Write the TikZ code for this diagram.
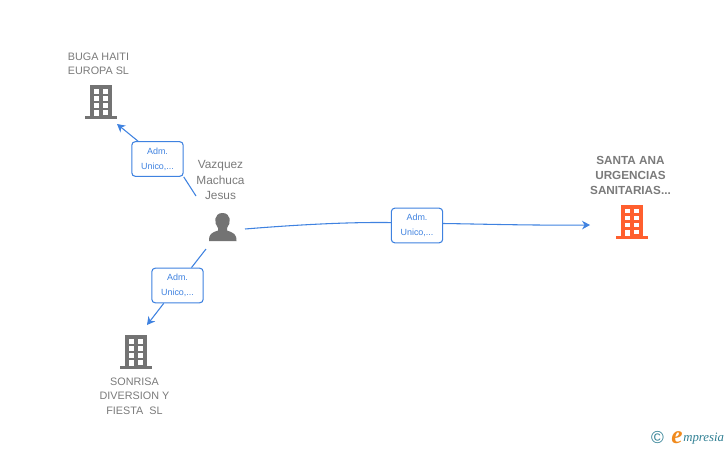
\documentclass[tikz,border=0pt]{standalone}
\usepackage{fontspec}
\setmainfont{Liberation Sans}
\newfontfamily\logofont{Liberation Serif}
\usetikzlibrary{arrows.meta}
\definecolor{linkblue}{HTML}{3F82E0}
\definecolor{txtgrey}{HTML}{7A7A7A}
\definecolor{icongrey}{HTML}{737373}
\definecolor{orangeicon}{HTML}{FF5F2E}
\definecolor{copyblue}{HTML}{2F7F93}
\definecolor{eorange}{HTML}{F08A1D}
\tikzset{
  x=0.75pt,y=-0.75pt,
  lbl/.style={font=\fontsize{8.1}{10.9}\selectfont,text=txtgrey,align=center,inner sep=0pt},
  personlbl/.style={lbl,font=\fontsize{8.9}{11.3}\selectfont},
  boldlbl/.style={lbl,font=\fontsize{8.8}{11.2}\selectfont\bfseries},
  linkbox/.style={draw=linkblue,line width=0.8pt,rounded corners=2.6pt,fill=white,minimum width=38.5pt,minimum height=26pt,inner sep=0pt,align=center,text=linkblue,font=\fontsize{6.7}{11.2}\selectfont},
  link/.style={draw=linkblue,line width=0.8pt},
  arrowlink/.style={link,-{Stealth[length=6pt,width=6.5pt]}},
  iconbox/.style={minimum width=24pt,minimum height=26pt,inner sep=0pt},
  pics/building/.style={code={
    \fill[#1] (-11,-17) rectangle (11,14);
    \fill[#1] (-16,14) rectangle (16,17);
    \foreach \yy in {-13,-6,1}{
      \fill[white] (-7,\yy) rectangle (-2,\yy+4.5);
      \fill[white] (2,\yy) rectangle (7,\yy+4.5);
    }
    \fill[white] (-7,8) rectangle (-2,14);
    \fill[white] (2,8) rectangle (7,12.5);
  }},
}
\begin{document}
\begin{tikzpicture}
\useasboundingbox (0,0) rectangle (728,450);
% icons
\node[iconbox] (buga) at (100.5,102) {};
\pic at (100.5,102) {building=icongrey};
\node[iconbox] (sonrisa) at (136,352) {};
\pic at (136,352) {building=icongrey};
\node[iconbox] (santa) at (632,221.5) {};
\pic at (632,221.5) {building=orangeicon};
\node[iconbox] (person) at (222.5,227) {};
\fill[icongrey] (209,241) .. controls (209,234) and (211,233) .. (218,230.5) -- (218,228) .. controls (213.5,223) and (214,213) .. (222.5,213) .. controls (231,213) and (231.5,223) .. (227,228) -- (227,230.5) .. controls (234,233) and (236.5,234) .. (236.5,241) -- cycle;
% labels
\node[lbl] (bugatext) at (98.5,64) {BUGA HAITI\\EUROPA SL};
\node[personlbl] (persontext) at (220.5,180) {Vazquez\\Machuca\\Jesus};
\node[lbl] (sonrisatext) at (134.5,396) {SONRISA\\DIVERSION Y\\FIESTA\ \ SL};
\node[boldlbl] (santatext) at (630.5,175.5) {SANTA ANA\\URGENCIAS\\SANITARIAS...};
% connector ends
\coordinate (p1) at (196,196);
\coordinate (p2) at (206,249);
\coordinate (p3) at (245,229);
\coordinate (e1) at (117,124);
\coordinate (e2) at (147,325);
\coordinate (e3) at (590,225);
% connector boxes
\node[linkbox] (l1) at (157.5,159) {Adm.\\Unico,...};
\node[linkbox] (l2) at (177.5,285.5) {Adm.\\Unico,...};
\node[linkbox] (l3) at (417,225.5) {Adm.\\Unico,...};
% connectors
\draw[link] (p1) -- (l1.south east);
\draw[arrowlink] ([xshift=5pt]l1.north west) -- (e1);
\draw[link] (p2) -- (l2);
\draw[arrowlink] (l2) -- (e2);
\draw[link] (p3) .. controls (300,224.5) and (350,222) .. ([yshift=2.2pt]l3.west);
\draw[arrowlink] ([yshift=1.5pt]l3.east) .. controls (480,224) and (530,225.5) .. (e3);
% logo
\node[text=copyblue,font=\fontsize{13}{13}\selectfont,inner sep=0pt] (copy) at (657.5,437.5) {©};
\node[text=eorange,font=\logofont\fontsize{19}{19}\selectfont\itshape\bfseries,inner sep=0pt] (elogo) at (677,438) {e};
\node[text=copyblue,font=\logofont\fontsize{9.6}{10}\selectfont\itshape,inner sep=0pt,anchor=west] (mpresia) at (683,439) {mpresia};
\end{tikzpicture}
\end{document}
